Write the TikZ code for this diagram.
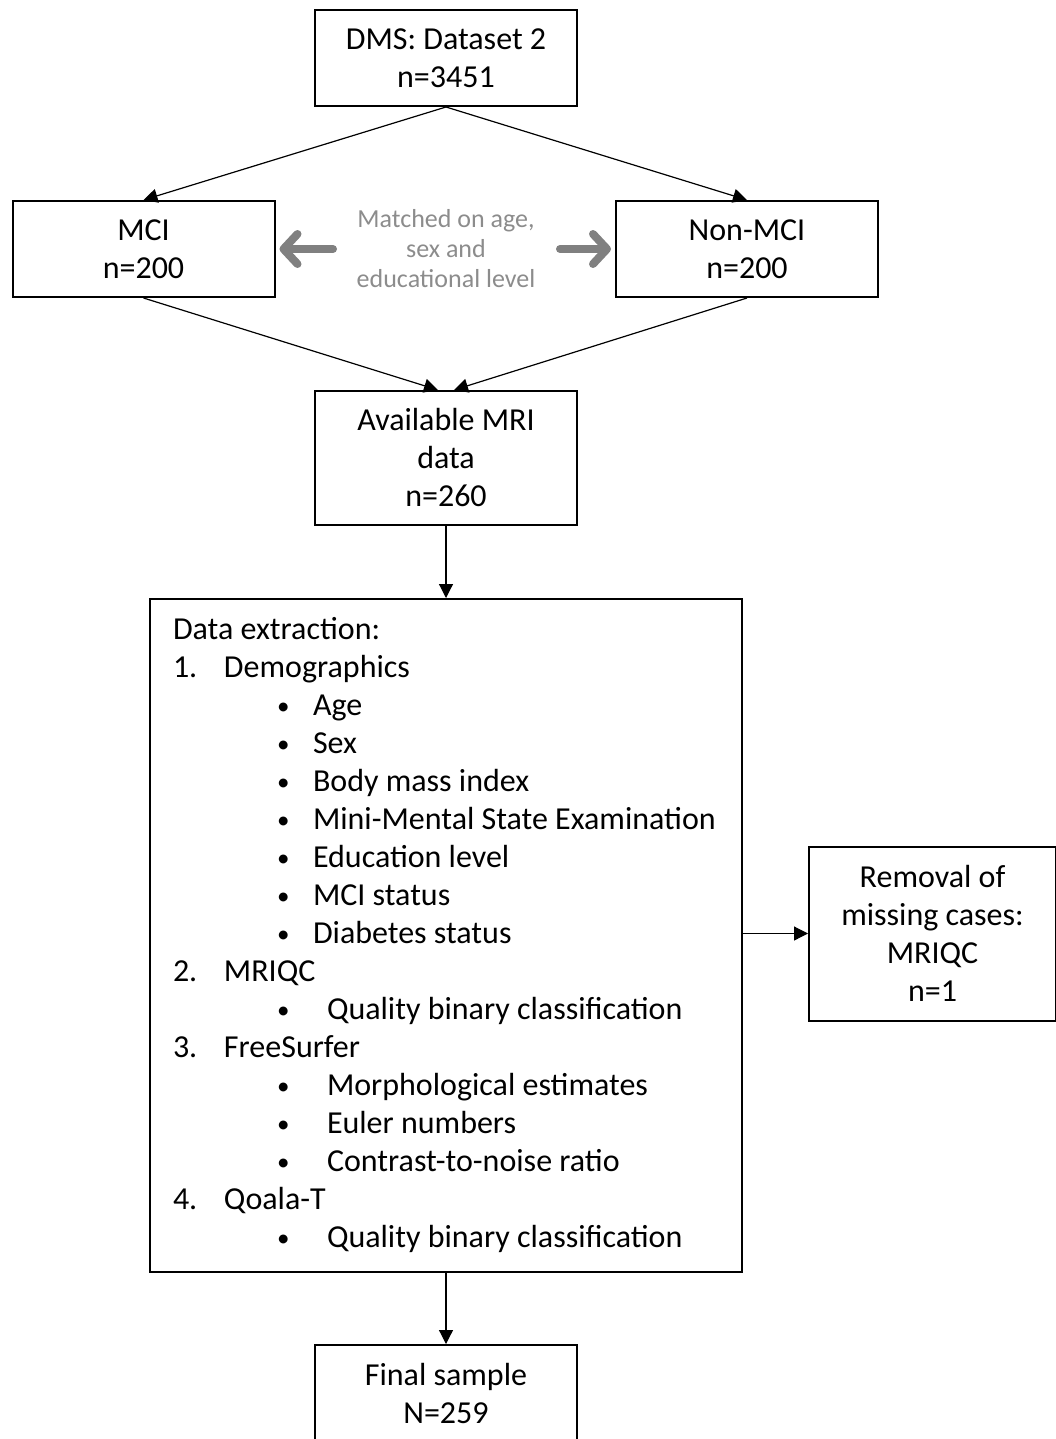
\documentclass[tikz,border=0pt]{standalone}
\usepackage{fontspec}
\setmainfont{Carlito}
\usetikzlibrary{positioning,arrows.meta}
\definecolor{matchgray}{RGB}{128,128,128}
\definecolor{matchtextgray}{RGB}{140,140,140}
\newcommand{\numitem}[2]{\makebox[25.5pt][l]{#1}#2}
\newcommand{\bulitem}[2]{\hspace*{52pt}\makebox[#1][l]{\raisebox{0.6pt}{\fontsize{12.5}{12.5}\selectfont\textbullet}}#2}
\tikzset{->, % every connector is an arrow
>={Triangle[length=7pt,width=7pt]}, % small solid heads
node distance=46.5pt,
flowbox/.style={draw, line width=1pt, minimum width=131pt, minimum height=48pt, align=center, font=\fontsize{16}{19}\selectfont},
linkline/.style={line width=0.6pt},
matchtext/.style={align=center, text=matchtextgray, font=\fontsize{13}{15}\selectfont},
matcharrow/.style={draw=matchgray, line width=4pt, line cap=round, -{Straight Barb[length=7pt,width=15pt,round]}},
}
\begin{document}
\begin{tikzpicture}
\useasboundingbox (0,0) rectangle (527.5pt,-719.5pt);
\node[flowbox] (dms) at (223pt,-29pt) {DMS: Dataset 2\\n=3451};
\node[flowbox, below=of dms, xshift=-151.25pt] (mci) {MCI\\n=200};
\node[flowbox, below=of dms, xshift=150.5pt] (nonmci) {Non-MCI\\n=200};
\node[matchtext] (match) at (dms |- mci) {Matched on age,\\sex and\\educational level};
\node[flowbox, below=141.5pt of dms, minimum height=67pt] (avail) {Available MRI\\data\\n=260};
\node[flowbox, below=36pt of avail, minimum width=296pt, minimum height=336.5pt, text width=273pt, inner xsep=11.5pt, align=flush left] (data) {Data extraction:\\
\numitem{1.}{Demographics}\\
\bulitem{18pt}{Age}\\
\bulitem{18pt}{Sex}\\
\bulitem{18pt}{Body mass index}\\
\bulitem{18pt}{Mini-Mental State Examination}\\
\bulitem{18pt}{Education level}\\
\bulitem{18pt}{MCI status}\\
\bulitem{18pt}{Diabetes status}\\
\numitem{2.}{MRIQC}\\
\bulitem{25pt}{Quality binary classification}\\
\numitem{3.}{FreeSurfer}\\
\bulitem{25pt}{Morphological estimates}\\
\bulitem{25pt}{Euler numbers}\\
\bulitem{25pt}{Contrast-to-noise ratio}\\
\numitem{4.}{Qoala-T}\\
\bulitem{25pt}{Quality binary classification}};
\node[flowbox, right=32.5pt of data, yshift=1pt, minimum width=123.5pt, minimum height=87pt] (removal) {Removal of\\missing cases:\\MRIQC\\n=1};
\node[flowbox, below=35.5pt of data] (final) {Final sample\\N=259};

\draw[linkline] (dms.south) -- (mci.north);
\draw[linkline] (dms.south) -- (nonmci.north);
\draw[linkline] (mci.south) -- ([xshift=-4pt]avail.north);
\draw[linkline] (nonmci.south) -- ([xshift=4pt]avail.north);
\draw[linkline] (avail) -- (data);
\draw[linkline] (data.east |- removal.west) -- (removal.west);
\draw[linkline] (data) -- (final);
\draw[matcharrow] ([xshift=-56.5pt]match.center) -- ([xshift=2pt]mci.east);
\draw[matcharrow] ([xshift=57pt]match.center) -- ([xshift=-2pt]nonmci.west);
\end{tikzpicture}
\end{document}
